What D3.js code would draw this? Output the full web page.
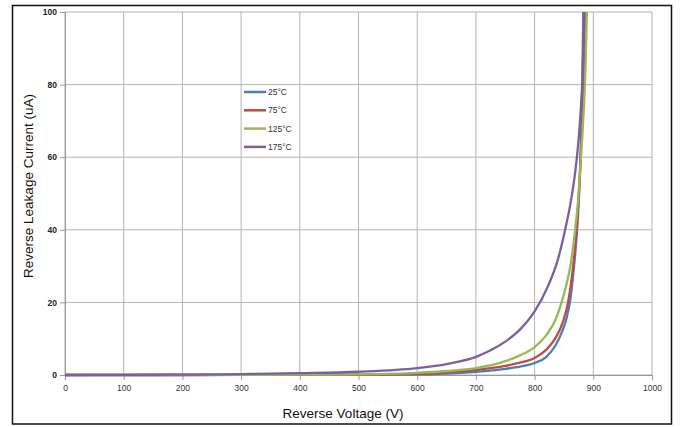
<!DOCTYPE html>
<html>
<head>
<meta charset="utf-8">
<script src="https://cdn.jsdelivr.net/npm/d3@7"></script>
<style>
  body { margin: 0; background: #fff; }
  svg { display: block; font-family: "Liberation Sans", Arial, sans-serif; }
</style>
</head>
<body>
<div id="chart"></div>
<script>
// values (V, uA)
const seriesNames = ['25°C', '75°C', '125°C', '175°C'];
const seriesColors = ['#4a7ebb', '#be4b48', '#98b954', '#7d5fa0'];

const v25 = [0, 100, 200, 300, 400, 500, 600, 650, 700, 750, 775, 800, 820, 835, 847, 855, 861, 866, 870, 874, 877, 879, 881, 883];
const i25 = [0, 0, 0, 0.02, 0.05, 0.08, 0.15, 0.4, 0.9, 1.7, 2.3, 3.3, 5, 8, 12, 16, 21, 28, 35, 44, 54, 64, 78, 100];

const v75 = [0, 100, 200, 300, 400, 500, 600, 650, 700, 750, 775, 800, 820, 835, 848, 857, 865, 870, 874, 877, 880, 883, 886];
const i75 = [0, 0, 0, 0.03, 0.07, 0.12, 0.3, 0.7, 1.4, 2.5, 3.4, 4.7, 7, 10, 14.5, 20, 29, 37, 46, 55, 66, 78, 100];

const v125 = [0, 100, 200, 300, 400, 500, 600, 650, 700, 750, 775, 800, 820, 835, 846, 855, 862, 869, 874, 879, 884, 887, 889];
const i125 = [0, 0, 0.02, 0.05, 0.1, 0.2, 0.6, 1.1, 1.9, 3.8, 5.4, 7.7, 11, 15, 20, 25.5, 31, 40, 48, 60, 74, 86, 100];

const v175 = [0, 100, 200, 300, 400, 500, 600, 650, 700, 725, 750, 775, 800, 820, 840, 852, 863, 870, 875, 879, 882, 884];
const i175 = [0, 0.05, 0.1, 0.25, 0.5, 0.9, 1.9, 3.0, 5.0, 6.8, 9.2, 12.5, 17.5, 23.5, 32, 40, 49, 57, 65, 74, 84, 100];

const xTicks = [0, 100, 200, 300, 400, 500, 600, 700, 800, 900, 1000];
const yTicks = [0, 20, 40, 60, 80, 100];

const seriesV = [v25, v75, v125, v175];
const seriesI = [i25, i75, i125, i175];

const w = 680;
const h = 427;
const padLeft = 65, padRight = 652, padTop = 12, padBottom = 375;

const xScale = d3.scaleLinear().domain([0, 1000]).range([padLeft, padRight]);
const yScale = d3.scaleLinear().domain([0, 100]).range([padBottom, padTop]);

const svg = d3.select('#chart')
              .append('svg')
              .attr('width', w)
              .attr('height', h);

// outer frame
svg.append('rect')
   .attr('x', 12.5).attr('y', 5.5)
   .attr('width', 659).attr('height', 418.5)
   .attr('fill', 'none')
   .attr('stroke', '#111')
   .attr('stroke-width', 1.5);

// grid
svg.append('g')
   .selectAll('line')
   .data(yTicks)
   .enter()
   .append('line')
   .attr('x1', padLeft).attr('x2', padRight)
   .attr('y1', d => yScale(d)).attr('y2', d => yScale(d))
   .attr('stroke', '#b4b4b4').attr('stroke-width', 1);

svg.append('g')
   .selectAll('line')
   .data(xTicks)
   .enter()
   .append('line')
   .attr('x1', d => xScale(d)).attr('x2', d => xScale(d))
   .attr('y1', padTop).attr('y2', padBottom)
   .attr('stroke', '#b4b4b4').attr('stroke-width', 1);

// axes
const xAxis = d3.axisBottom(xScale).tickValues(xTicks).tickFormat(d3.format('d')).tickSize(5).tickPadding(5);
const yAxis = d3.axisLeft(yScale).tickValues(yTicks).tickSize(5).tickPadding(3);

const gx = svg.append('g')
   .attr('transform', `translate(0, ${padBottom})`)
   .call(xAxis);
gx.selectAll('text').attr('font-size', 8.5).attr('fill', '#333');

const gy = svg.append('g')
   .attr('transform', `translate(${padLeft}, 0)`)
   .call(yAxis);
gy.selectAll('text').attr('font-size', 8.5).attr('font-weight', 'bold').attr('fill', '#222');

svg.selectAll('.domain').attr('stroke', '#999');
svg.selectAll('.tick line').attr('stroke', '#999');

// curves
const line = d3.line()
               .x(d => xScale(d[0]))
               .y(d => yScale(d[1]))
               .curve(d3.curveMonotoneX);

seriesV.forEach((vs, k) => {
  const pts = vs.map((v, j) => [v, seriesI[k][j]]);
  svg.append('path')
     .datum(pts)
     .attr('d', line)
     .attr('fill', 'none')
     .attr('stroke', seriesColors[k])
     .attr('stroke-width', 2.3);
});

// legend
const legend = svg.append('g');
seriesNames.forEach((name, k) => {
  const y = 92 + k * 18.3;
  legend.append('line')
        .attr('x1', 244).attr('x2', 266)
        .attr('y1', y).attr('y2', y)
        .attr('stroke', seriesColors[k])
        .attr('stroke-width', 2.5);
  legend.append('text')
        .attr('x', 268).attr('y', y + 3)
        .attr('font-size', 8.5)
        .attr('fill', '#333')
        .text(name);
});

// axis titles
svg.append('text')
   .attr('x', 343).attr('y', 418)
   .attr('text-anchor', 'middle')
   .attr('font-size', 13.5)
   .attr('fill', '#111')
   .text('Reverse Voltage (V)');

svg.append('text')
   .attr('transform', 'rotate(-90)')
   .attr('x', -186).attr('y', 33)
   .attr('text-anchor', 'middle')
   .attr('font-size', 13.5)
   .attr('fill', '#111')
   .text('Reverse Leakage Current (uA)');
</script>
</body>
</html>
